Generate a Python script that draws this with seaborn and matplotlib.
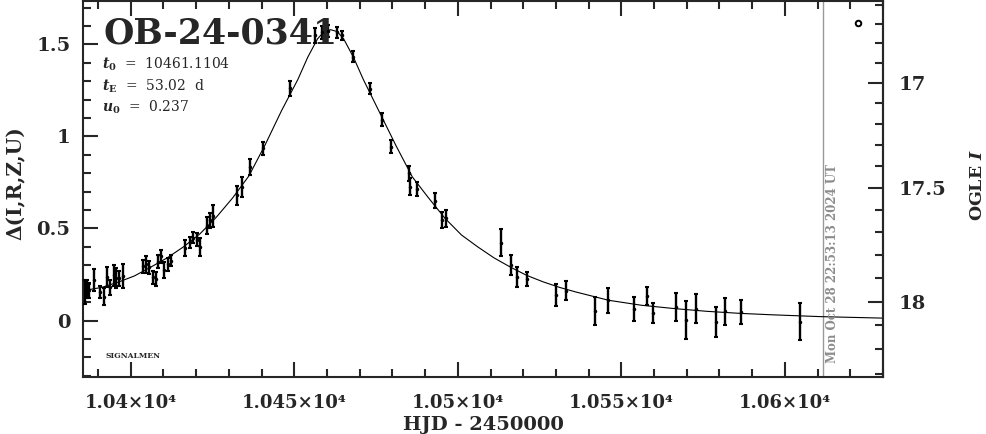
import matplotlib
matplotlib.use("Agg")
import matplotlib.pyplot as plt
import numpy as np
import seaborn as sns
from matplotlib.ticker import FixedLocator, FuncFormatter, MultipleLocator

# photometry (HJD - 2450000, Delta flux, 1-sigma error)
hjd = [
    10386.0, 10386.6, 10387.2, 10388.9, 10390.6, 10391.8, 10392.6, 10393.6, 10394.9, 10395.6,
    10396.5, 10397.6, 10403.6, 10404.6, 10405.7, 10406.9, 10407.6, 10408.3, 10409.2, 10410.3,
    10411.4, 10412.3, 10416.6, 10418.0, 10419.0, 10420.1, 10421.2, 10423.3, 10424.2, 10425.1,
    10432.4, 10433.9, 10436.5, 10440.5, 10448.7, 10456.3, 10458.4, 10460.4, 10463.0, 10464.5,
    10468.0, 10473.1, 10476.7, 10479.5, 10485.1, 10485.3, 10487.4, 10493.0, 10495.1, 10496.4,
    10513.1, 10516.2, 10518.2, 10521.1, 10530.0, 10533.1, 10541.9, 10546.0, 10554.0, 10557.8,
    10559.8, 10566.7, 10569.8, 10572.8, 10578.9, 10581.7, 10586.6, 10604.7,
]
delta = [
    0.155, 0.170, 0.165, 0.220, 0.155, 0.130, 0.235, 0.180, 0.245, 0.230,
    0.230, 0.240, 0.295, 0.305, 0.290, 0.235, 0.225, 0.320, 0.350, 0.275,
    0.305, 0.325, 0.395, 0.425, 0.450, 0.440, 0.400, 0.515, 0.545, 0.570,
    0.680, 0.725, 0.835, 0.935, 1.262, 1.550, 1.566, 1.573, 1.565, 1.550,
    1.434, 1.258, 1.090, 0.945, 0.800, 0.727, 0.715, 0.651, 0.546, 0.555,
    0.423, 0.302, 0.238, 0.225, 0.139, 0.162, 0.053, 0.111, 0.061, 0.133,
    0.042, 0.072, 0.003, 0.064, -0.007, 0.050, 0.048, -0.007,
]
delta_err = [
    0.065, 0.050, 0.040, 0.060, 0.035, 0.045, 0.055, 0.040, 0.055, 0.055,
    0.040, 0.065, 0.035, 0.045, 0.035, 0.035, 0.040, 0.035, 0.035, 0.045,
    0.035, 0.030, 0.045, 0.030, 0.030, 0.035, 0.050, 0.045, 0.040, 0.060,
    0.050, 0.055, 0.045, 0.035, 0.040, 0.040, 0.035, 0.030, 0.030, 0.025,
    0.030, 0.030, 0.035, 0.035, 0.040, 0.045, 0.040, 0.040, 0.045, 0.045,
    0.075, 0.055, 0.055, 0.040, 0.060, 0.050, 0.077, 0.068, 0.065, 0.050,
    0.055, 0.077, 0.105, 0.080, 0.082, 0.074, 0.065, 0.100,
]

# model curve, sampled off the drawn line
model_hjd = [
    10385.4, 10391.1, 10396.1, 10401.1, 10406.1, 10411.1, 10416.1, 10421.1, 10426.1, 10431.1,
    10436.1, 10441.1, 10446.1, 10451.1, 10454.1, 10457.1, 10459.1, 10461.1, 10463.1, 10465.1,
    10468.1, 10471.1, 10476.1, 10481.1, 10486.1, 10491.1, 10496.1, 10501.1, 10506.1, 10511.1,
    10516.1, 10521.1, 10526.1, 10531.1, 10536.1, 10546.1, 10556.1, 10566.1, 10576.1, 10586.1,
    10596.1, 10611.1, 10630.0,
]
model_delta = [
    0.162, 0.180, 0.208, 0.242, 0.290, 0.340, 0.400, 0.470, 0.560, 0.665,
    0.785, 0.955, 1.140, 1.310, 1.430, 1.530, 1.570, 1.580, 1.570, 1.530,
    1.430, 1.310, 1.130, 0.950, 0.780, 0.665, 0.555, 0.465, 0.400, 0.340,
    0.290, 0.245, 0.210, 0.180, 0.155, 0.110, 0.083, 0.065, 0.050, 0.039,
    0.031, 0.021, 0.013,
]

EVENT = "OB-24-0341"
PARAM_LINES = [r"$t_0$  =  10461.1104", r"$t_{\rm E}$  =  53.02  d", r"$u_0$  =  0.237"]
STAMP = "Mon Oct 28 22:53:13 2024 UT"
STAMP_HJD = 10611.8
OGLE_MARK_HJD = [10622.4]
OGLE_MARK_DELTA = [1.617]
OGLE_MAJOR = [17, 17.5, 18]

# right axis: Delta -> OGLE I, fitted to the printed 17 / 17.5 / 18 ticks
MAG_A, MAG_K, MAG_B = 4.362, 14.86, 8.378


def delta_to_mag(d):
    d = np.asarray(d, dtype=float)
    return MAG_A + MAG_K * np.log10(np.clip(MAG_B - d, 1e-6, None))


def mag_to_delta(m):
    m = np.asarray(m, dtype=float)
    return MAG_B - 10 ** ((m - MAG_A) / MAG_K)


def sci_label(v, pos):
    return f"{v / 1e4:g}\u00d710\u2074"


sns.set_style("ticks")
plt.rcParams.update({
    "font.family": ["DejaVu Serif"],
    "font.weight": "bold",
    "mathtext.fontset": "dejavuserif",
    "axes.linewidth": 1.5,
})

fig = plt.figure(figsize=(9.86, 4.34), dpi=100)
ax = fig.add_axes([0.0842, 0.1313, 0.8113, 0.8664])

ax.axvline(STAMP_HJD, color="#9a9a9a", lw=1.0, zorder=1)
sns.lineplot(x=model_hjd, y=model_delta, ax=ax, color="black", lw=0.8,
             sort=False, estimator=None, zorder=2)
ax.errorbar(hjd, delta, yerr=delta_err, fmt=".", ms=3, color="black",
            ecolor="black", elinewidth=1.7, capsize=1.6, capthick=1.5, zorder=3)
ax.plot(OGLE_MARK_HJD, OGLE_MARK_DELTA, "o", ms=4, mfc="white", mec="black", mew=1.4)

ax.set_xlim(10385.4, 10630.0)
ax.set_ylim(-0.307, 1.736)

ax.xaxis.set_major_locator(MultipleLocator(50))
ax.xaxis.set_minor_locator(MultipleLocator(10))
ax.xaxis.set_major_formatter(FuncFormatter(sci_label))
ax.yaxis.set_major_locator(MultipleLocator(0.5))
ax.yaxis.set_minor_locator(MultipleLocator(0.1))
ax.yaxis.set_major_formatter(FuncFormatter(lambda v, p: f"{v:g}"))
ax.tick_params(which="both", direction="in", top=True, right=False, width=1.5)
ax.tick_params(which="major", length=11)
ax.tick_params(which="minor", length=5.5)
ax.tick_params(axis="x", which="major", pad=12, labelsize=13)
ax.tick_params(axis="y", which="major", pad=9, labelsize=14)

secax = ax.secondary_yaxis("right", functions=(delta_to_mag, mag_to_delta))
secax.yaxis.set_major_locator(FixedLocator(OGLE_MAJOR))
secax.yaxis.set_minor_locator(MultipleLocator(0.1))
secax.yaxis.set_major_formatter(FuncFormatter(lambda v, p: f"{v:g}"))
secax.tick_params(which="both", direction="in", width=1.5)
secax.tick_params(which="major", length=11, labelsize=14, pad=11)
secax.tick_params(which="minor", length=5.5)
secax.spines["right"].set_linewidth(1.5)

fig.text(483 / 986, 1 - 425 / 434, "HJD - 2450000", fontsize=14, fontweight="bold",
         ha="center", va="center")
fig.text(16 / 986, 1 - 183 / 434, "\u0394(I,R,Z,U)", fontsize=14.5, fontweight="bold",
         rotation=90, ha="center", va="center")
fig.text(978 / 986, 1 - 185 / 434, r"OGLE $\mathbfit{I}$", fontsize=12.5, fontweight="bold",
         rotation=90, ha="center", va="center")

ax.text(0.025, 0.888, EVENT, transform=ax.transAxes, fontsize=25, fontweight="bold",
        va="baseline", ha="left")
for line, ybase in zip(PARAM_LINES, (0.819, 0.761, 0.705)):
    ax.text(0.024, ybase, line, transform=ax.transAxes, fontsize=10,
            fontweight="normal", va="baseline", ha="left")
ax.text(0.0275, 0.05, "SIGNALMEN", transform=ax.transAxes, fontsize=5.5,
        fontweight="bold", va="baseline", ha="left")
ax.text(STAMP_HJD + 0.9, -0.232, STAMP, rotation=90, color="#8c8c8c",
        fontsize=8.5, fontweight="bold", va="bottom", ha="left")

fig.savefig("out.png", dpi=100, facecolor="white")
